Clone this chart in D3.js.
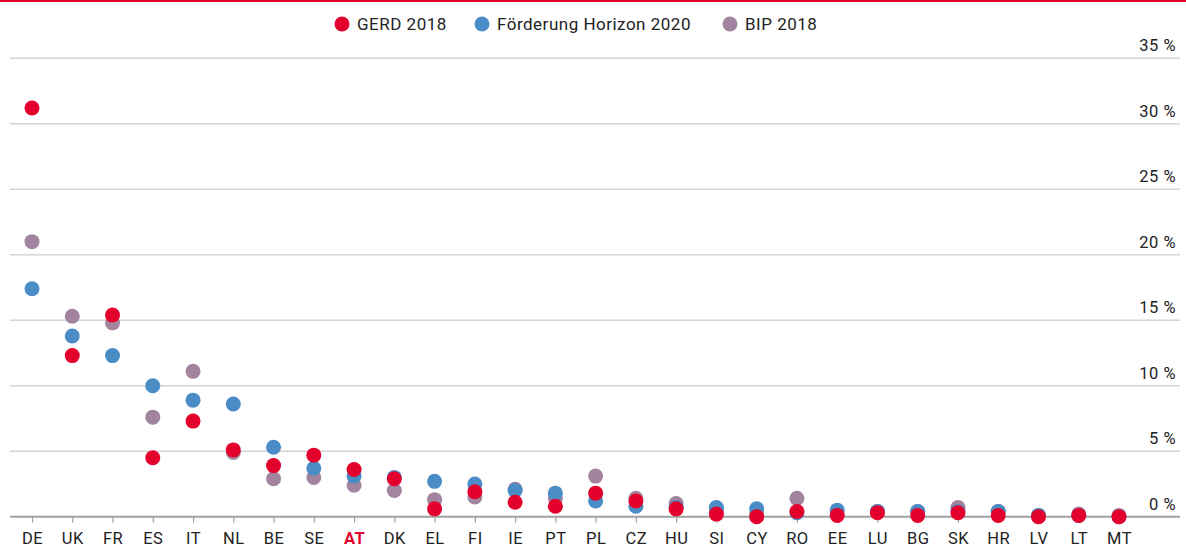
<!DOCTYPE html>
<html><head><meta charset="utf-8">
<script src="https://cdn.jsdelivr.net/npm/d3@7"></script>
<style>body{margin:0;background:#fff;}svg{display:block;font-family:Roboto,"Noto Sans",sans-serif;}</style>
</head><body><svg id="c" width="1186" height="552"></svg>
<script>
const categories = ["DE","UK","FR","ES","IT","NL","BE","SE","AT","DK","EL","FI","IE","PT","PL","CZ","HU","SI","CY","RO","EE","LU","BG","SK","HR","LV","LT","MT"];
const gerd2018 =    [31.2,12.3,15.4,4.5,7.3,5.1,3.9,4.7,3.6,2.9,0.6,1.9,1.1,0.8,1.8,1.2,0.6,0.2,0.0,0.4,0.1,0.3,0.1,0.3,0.1,0.0,0.1,0.0];
const horizon2020 = [17.4,13.8,12.3,10.0,8.9,8.6,5.3,3.7,3.1,3.0,2.7,2.5,2.0,1.8,1.2,0.8,0.7,0.7,0.6,0.3,0.5,0.4,0.4,0.4,0.4,0.1,0.1,0.0];
const bip2018 =     [21.0,15.3,14.8,7.6,11.1,4.9,2.9,3.0,2.4,2.0,1.3,1.5,2.1,1.4,3.1,1.4,1.0,0.4,0.2,1.4,0.2,0.4,0.4,0.7,0.4,0.1,0.2,0.1];
const yTicks = [0,5,10,15,20,25,30,35];
const seriesNames = ["GERD 2018","Förderung Horizon 2020","BIP 2018"];
const highlight = "AT";

const colors = {"GERD 2018":"#e3002c","Förderung Horizon 2020":"#4a8cc5","BIP 2018":"#a3849e"};
const svg = d3.select("#c");
const x = d3.scalePoint().domain(categories).range([32,1119]);
const y = d3.scaleLinear().domain([0,35]).range([516.7,58.3]);

svg.append("rect").attr("x",0).attr("y",0).attr("width",1186).attr("height",2).attr("fill","#e3002c");

// grid
const g = svg.append("g");
yTicks.forEach(t=>{
  g.append("line").attr("x1",10).attr("x2",1180).attr("y1",y(t)).attr("y2",y(t))
   .attr("stroke", t===0?"#a0a0a0":"#d4d4d4").attr("stroke-width", t===0?2:1.5);
  g.append("text").attr("x",1176).attr("y",y(t)-7).attr("text-anchor","end")
   .attr("font-size",16.5).attr("letter-spacing","0.5px").attr("fill","#222").text(t+" %");
});

// x axis
const xa = svg.append("g").attr("transform","translate(0,"+y(0)+")")
  .call(d3.axisBottom(x).tickSize(6).tickPadding(10));
xa.select(".domain").remove();
xa.selectAll(".tick line").attr("stroke","#a0a0a0").attr("stroke-width",1.2);
xa.selectAll(".tick text").attr("font-size",16.5).attr("letter-spacing","0.5px").attr("font-family","Roboto, sans-serif")
  .attr("fill",d=>d===highlight?"#e3002c":"#222").attr("font-weight",d=>d===highlight?"bold":"normal");

// dots: BIP bottom, Horizon, GERD top
const layers = [["BIP 2018",bip2018],["Förderung Horizon 2020",horizon2020],["GERD 2018",gerd2018]];
layers.forEach(([name,vals])=>{
  svg.append("g").selectAll("circle").data(categories).join("circle")
    .attr("cx",d=>x(d)).attr("cy",(d,i)=>y(vals[i])).attr("r",7.5)
    .attr("fill",colors[name]);
});

// legend
const legX = [342,482,730];
seriesNames.forEach((n,i)=>{
  svg.append("circle").attr("cx",legX[i]).attr("cy",24).attr("r",7.5).attr("fill",colors[n]);
  svg.append("text").attr("x",legX[i]+15).attr("y",30).attr("font-size",17).attr("letter-spacing","0.5px").attr("fill","#222").text(n);
});
</script></body></html>
